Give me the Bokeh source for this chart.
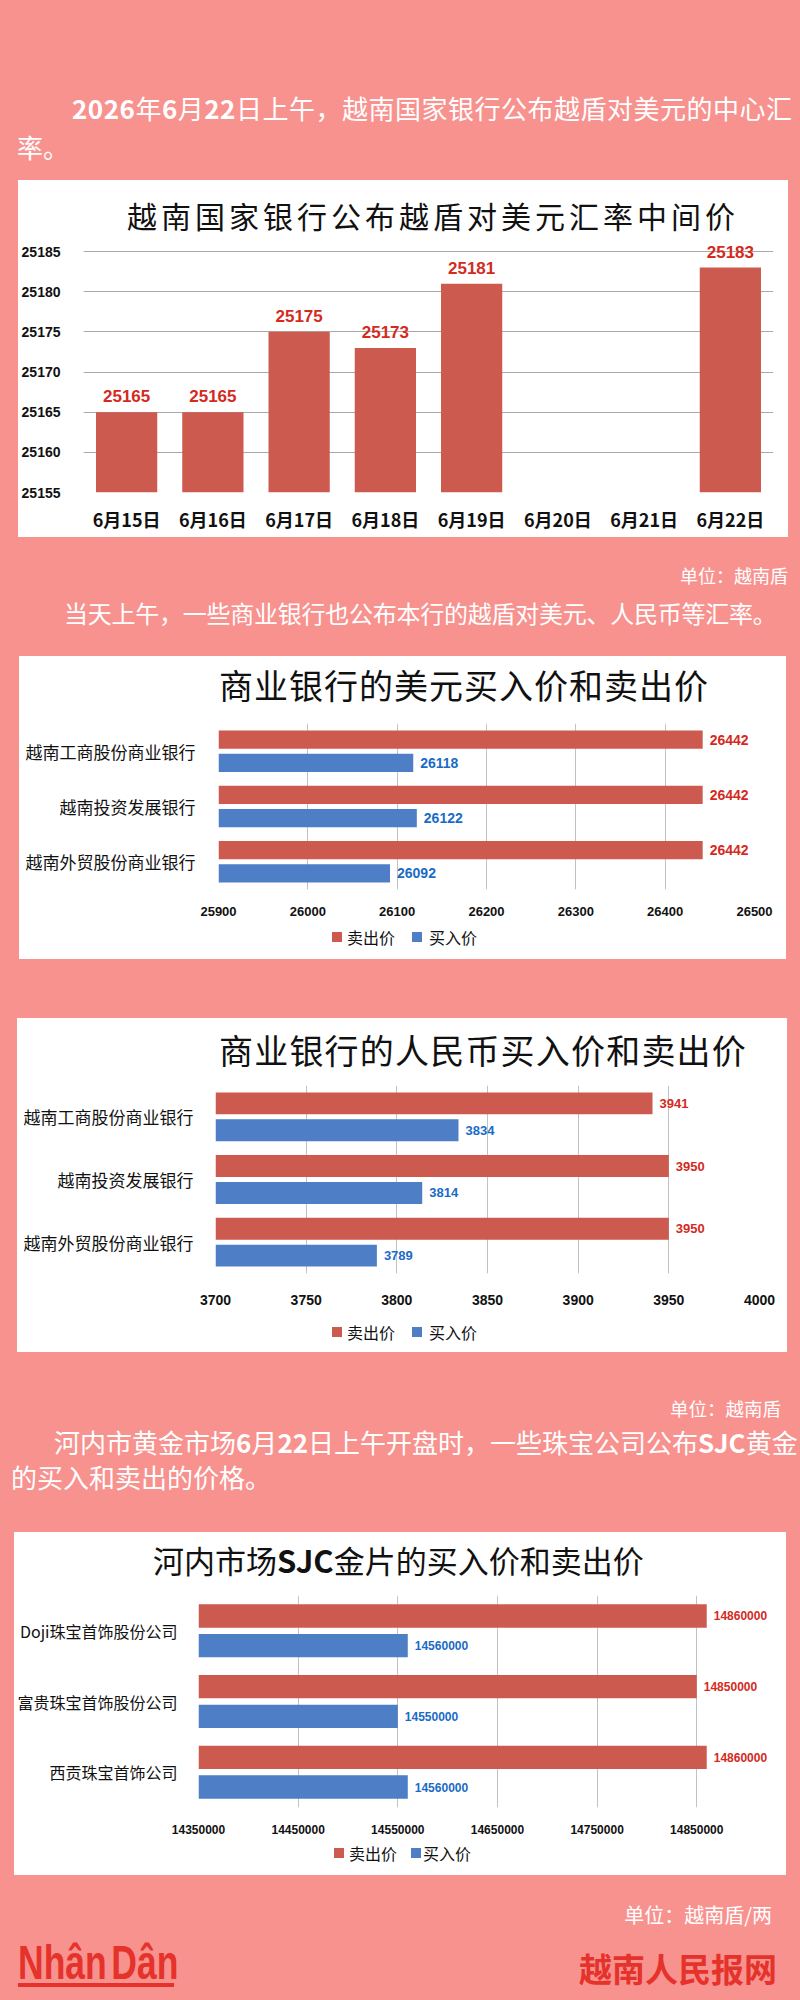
from bokeh.plotting import figure
from bokeh.models import (ColumnDataSource, FactorRange, Range1d, FixedTicker, LabelSet,
                          Div, GlobalInlineStyleSheet, BasicTickFormatter)
from bokeh.layouts import column
from bokeh.transform import dodge
from bokeh.core.properties import value
from bokeh.embed import file_html
from bokeh.resources import INLINE

# ---------------- data ----------------
dates = ["6月15日", "6月16日", "6月17日", "6月18日", "6月19日", "6月20日", "6月21日", "6月22日"]
mid_rate = [25165, 25165, 25175, 25173, 25181, None, None, 25183]
mid_ticks = [25155, 25160, 25165, 25170, 25175, 25180, 25185]
mid_top = 25186.5   # head-room above the last tick so the value labels stay visible

banks = ["越南工商股份商业银行", "越南投资发展银行", "越南外贸股份商业银行"]
usd_sell = [26442, 26442, 26442]
usd_buy = [26118, 26122, 26092]
usd_ticks = [25900, 26000, 26100, 26200, 26300, 26400, 26500]

cny_sell = [3941, 3950, 3950]
cny_buy = [3834, 3814, 3789]
cny_ticks = [3700, 3750, 3800, 3850, 3900, 3950, 4000]

jewelers = ["Doji珠宝首饰股份公司", "富贵珠宝首饰股份公司", "西贡珠宝首饰公司"]
gold_sell = [14860000, 14850000, 14860000]
gold_buy = [14560000, 14550000, 14560000]
gold_ticks = [14350000, 14450000, 14550000, 14650000, 14750000, 14850000]
gold_end = 14930000

series_names = ["卖出价", "买入价"]

# ---------------- style ----------------
PINK = "#F8928F"
BAR_RED = "#CD5A4F"
BAR_BLUE = "#4D7EC6"
LBL_RED = "#D42A1E"
LBL_BLUE = "#1A6BC6"
GRID = "#C2C2C2"
BRAND_RED = "#E5322A"
CJK = "Noto Sans CJK SC"
NUM = "Liberation Sans"


def abs_text(x, yc, html, size, color="#FFFFFF", weight="normal", align="left",
             family=CJK, extra=""):
    lh = round(size * 1.3)
    top = yc - lh / 2
    side = f"left:{x}px;" if align == "left" else f"right:{x}px;text-align:right;"
    return (f'<div style="position:absolute;{side}top:{top}px;font-size:{size}px;'
            f'line-height:{lh}px;color:{color};font-weight:{weight};'
            f'font-family:\'{family}\';white-space:nowrap;{extra}">{html}</div>')


def block(h, inner, w=784):
    return f'<div style="position:relative;width:{w}px;height:{h}px;">{inner}</div>'


def text_div(h, inner, w=784, bg=None):
    kw = {}
    if bg:
        kw["styles"] = {"background-color": bg}
    return Div(text=block(h, inner, w), width=w, height=h, margin=0, **kw)


def legend_div(w, h, yc, sq1, lb1, sq2, lb2):
    inner = ""
    for sq, lb, col, name in ((sq1, lb1, BAR_RED, series_names[0]),
                              (sq2, lb2, BAR_BLUE, series_names[1])):
        inner += (f'<div style="position:absolute;left:{sq}px;top:{yc - 5}px;width:10px;'
                  f'height:10px;background:{col};"></div>')
        inner += abs_text(lb, yc, name, 16, color="#111111")
    return text_div(h, inner, w=w, bg="white")


# ---------------- chart 1 ----------------
W1 = 770
title1 = text_div(54, abs_text(109, 35, "越南国家银行公布越盾对美元汇率中间价", 30,
                               color="#111111", extra="letter-spacing:4px;"), w=W1, bg="white")
p1 = figure(x_range=FactorRange(factors=dates), y_range=Range1d(mid_ticks[0], mid_top),
            width=W1, height=303, toolbar_location=None, output_backend="svg",
            min_border_left=65, min_border_right=15, min_border_top=5, min_border_bottom=45,
            outline_line_color=None)
d_av = [d for d, v in zip(dates, mid_rate) if v is not None]
v_av = [v for v in mid_rate if v is not None]
src1 = ColumnDataSource(dict(d=d_av, v=v_av, t=[str(v) for v in v_av]))
p1.vbar(x="d", top="v", bottom=mid_ticks[0], width=0.71, fill_color=BAR_RED, line_color=None,
        source=src1)
p1.add_layout(LabelSet(x="d", y="v", text="t", source=src1, text_align="center",
                       text_baseline="alphabetic", y_offset=10, text_color=LBL_RED,
                       text_font=value(NUM), text_font_style="bold", text_font_size="17px"))
p1.yaxis.ticker = FixedTicker(ticks=mid_ticks)
p1.yaxis.formatter = BasicTickFormatter(use_scientific=False)
p1.yaxis.axis_line_color = None
p1.yaxis.major_tick_line_color = None
p1.yaxis.minor_tick_line_color = None
p1.yaxis.major_label_text_font = NUM
p1.yaxis.major_label_text_font_style = "bold"
p1.yaxis.major_label_text_font_size = "14px"
p1.yaxis.major_label_text_color = "#111111"
p1.yaxis.major_label_standoff = 17
p1.xaxis.axis_line_color = None
p1.xaxis.major_tick_line_color = None
p1.xaxis.major_label_text_font = CJK
p1.xaxis.major_label_text_font_style = "bold"
p1.xaxis.major_label_text_font_size = "18px"
p1.xaxis.major_label_text_color = "#111111"
p1.xaxis.major_label_standoff = 7
p1.ygrid.grid_line_color = "#A8A8A8"
p1.xgrid.grid_line_color = None
box1 = column(title1, p1, width=W1, height=357, margin=(0, 0, 0, 10),
              styles={"background-color": "white"})


# ---------------- horizontal charts ----------------
def hchart(cats, sell, buy, ticks, x_end, w, h, bl, br, bt, bb, bar_h, off, tick_fs, val_fs,
           cat_fs, so_x, so_y):
    p = figure(y_range=FactorRange(factors=list(reversed(cats))), x_range=Range1d(ticks[0], x_end),
               width=w, height=h, toolbar_location=None, output_backend="svg",
               min_border_left=bl, min_border_right=br, min_border_top=bt, min_border_bottom=bb,
               outline_line_color=None)
    src = ColumnDataSource(dict(c=cats, s=sell, b=buy, st=[str(v) for v in sell],
                                bt=[str(v) for v in buy]))
    p.hbar(y=dodge("c", off, range=p.y_range), left=ticks[0], right="s", height=bar_h,
           fill_color=BAR_RED, line_color=None, source=src)
    p.hbar(y=dodge("c", -off, range=p.y_range), left=ticks[0], right="b", height=bar_h,
           fill_color=BAR_BLUE, line_color=None, source=src)
    for fld, txt, off_, col in (("s", "st", off, LBL_RED), ("b", "bt", -off, LBL_BLUE)):
        p.add_layout(LabelSet(x=fld, y=dodge("c", off_, range=p.y_range), text=txt, source=src,
                              x_offset=7, text_baseline="middle", text_align="left",
                              text_color=col, text_font=value(NUM), text_font_style="bold",
                              text_font_size=f"{val_fs}px"))
    p.xaxis.ticker = FixedTicker(ticks=ticks)
    p.xaxis.formatter = BasicTickFormatter(use_scientific=False)
    p.xaxis.axis_line_color = None
    p.xaxis.major_tick_line_color = None
    p.xaxis.minor_tick_line_color = None
    p.xaxis.major_label_text_font = NUM
    p.xaxis.major_label_text_font_style = "bold"
    p.xaxis.major_label_text_font_size = f"{tick_fs}px"
    p.xaxis.major_label_text_color = "#111111"
    p.xaxis.major_label_standoff = so_x
    p.yaxis.axis_line_color = None
    p.yaxis.major_tick_line_color = None
    p.yaxis.major_label_text_font = CJK
    p.yaxis.major_label_text_font_size = f"{cat_fs}px"
    p.yaxis.major_label_text_color = "#111111"
    p.yaxis.major_label_standoff = so_y
    p.ygrid.grid_line_color = None
    p.xgrid.grid_line_color = GRID
    return p


W2 = 767
title2 = text_div(60, abs_text(200, 29, "商业银行的美元买入价和卖出价", 34, color="#111111",
                               extra="letter-spacing:1px;"), w=W2, bg="white")
p2 = hchart(banks, usd_sell, usd_buy, usd_ticks, usd_ticks[-1], W2, 206, 199, 32, 7, 33,
            0.33, 0.21, 13, 14, 17, 11, 17)
leg2 = legend_div(W2, 37, 15, 313, 328, 393, 410)
box2 = column(title2, p2, leg2, width=W2, height=303, margin=(0, 0, 0, 11),
              styles={"background-color": "white"})

W3 = 770
title3 = text_div(60, abs_text(202, 32, "商业银行的人民币买入价和卖出价", 34, color="#111111",
                               extra="letter-spacing:1.2px;"), w=W3, bg="white")
p3 = hchart(banks, cny_sell, cny_buy, cny_ticks, cny_ticks[-1], W3, 237, 198, 28, 7, 42,
            0.35, 0.215, 14, 13, 17, 15, 16)
leg3 = legend_div(W3, 37, 17, 315, 330, 395, 412)
box3 = column(title3, p3, leg3, width=W3, height=334, margin=(0, 0, 0, 9),
              styles={"background-color": "white"})

W4 = 772
title4 = text_div(58, abs_text(139, 28, "河内市场<b>SJC</b>金片的买入价和卖出价", 31,
                               color="#111111", extra="letter-spacing:0px;"), w=W4, bg="white")
p4 = hchart(jewelers, gold_sell, gold_buy, gold_ticks, gold_end, W4, 246, 182, 10, 5, 29,
            0.33, 0.21, 12, 12, 16, 11, 15)
leg4 = legend_div(W4, 39, 17, 320, 335, 397, 409)
box4 = column(title4, p4, leg4, width=W4, height=343, margin=(0, 0, 0, 6),
              styles={"background-color": "white"})

# ---------------- text blocks ----------------
div1 = text_div(172,
                abs_text(64, 100, "<b>2026</b>年<b>6</b>月<b>22</b>日上午，越南国家银行公布越盾对美元的中心汇",
                         26, extra="letter-spacing:0.5px;")
                + abs_text(9, 139, "率。", 26))
div2 = text_div(119,
                abs_text(4, 38, "单位：越南盾", 18, align="right")
                + abs_text(56, 75, "当天上午，一些商业银行也公布本行的越盾对美元、人民币等汇率。", 24,
                           extra="letter-spacing:-0.25px;"))
spacer = Div(text="", width=784, height=59, margin=0)
div3 = text_div(180,
                abs_text(11, 56, "单位：越南盾", 18.5, align="right")
                + abs_text(46, 90, "河内市黄金市场<b>6</b>月<b>22</b>日上午开盘时，一些珠宝公司公布<b>SJC</b>黄金", 26)
                + abs_text(3, 125, "的买入和卖出的价格。", 26))
logo = ('<div style="position:absolute;left:10px;top:64px;font-size:48px;line-height:48px;'
        f'color:{BRAND_RED};font-weight:bold;font-family:\'Liberation Sans Narrow\',\'Liberation Sans\';'
        'letter-spacing:0px;white-space:nowrap;transform:scaleX(0.74);transform-origin:0 0;">'
        'Nhân<span style="margin-left:6px">Dân</span></div>'
        f'<div style="position:absolute;left:10px;top:108px;width:156px;height:4px;background:{BRAND_RED};"></div>')
div4 = text_div(117,
                abs_text(20, 40, "单位：越南盾/两", 20, align="right")
                + abs_text(15, 93, "越南人民报网", 33, color=BRAND_RED, weight="bold", align="right")
                + logo)

root = column(div1, box1, div2, box2, spacer, box3, div3, box4, div4, width=784,
              margin=(8, 8, 0, 8),
              styles={"background-color": PINK},
              stylesheets=[GlobalInlineStyleSheet(
                  css=f"html, body {{ background: {PINK}; margin: 0; padding: 0; }}")])

open("out.html", "w").write(file_html(root, INLINE))
